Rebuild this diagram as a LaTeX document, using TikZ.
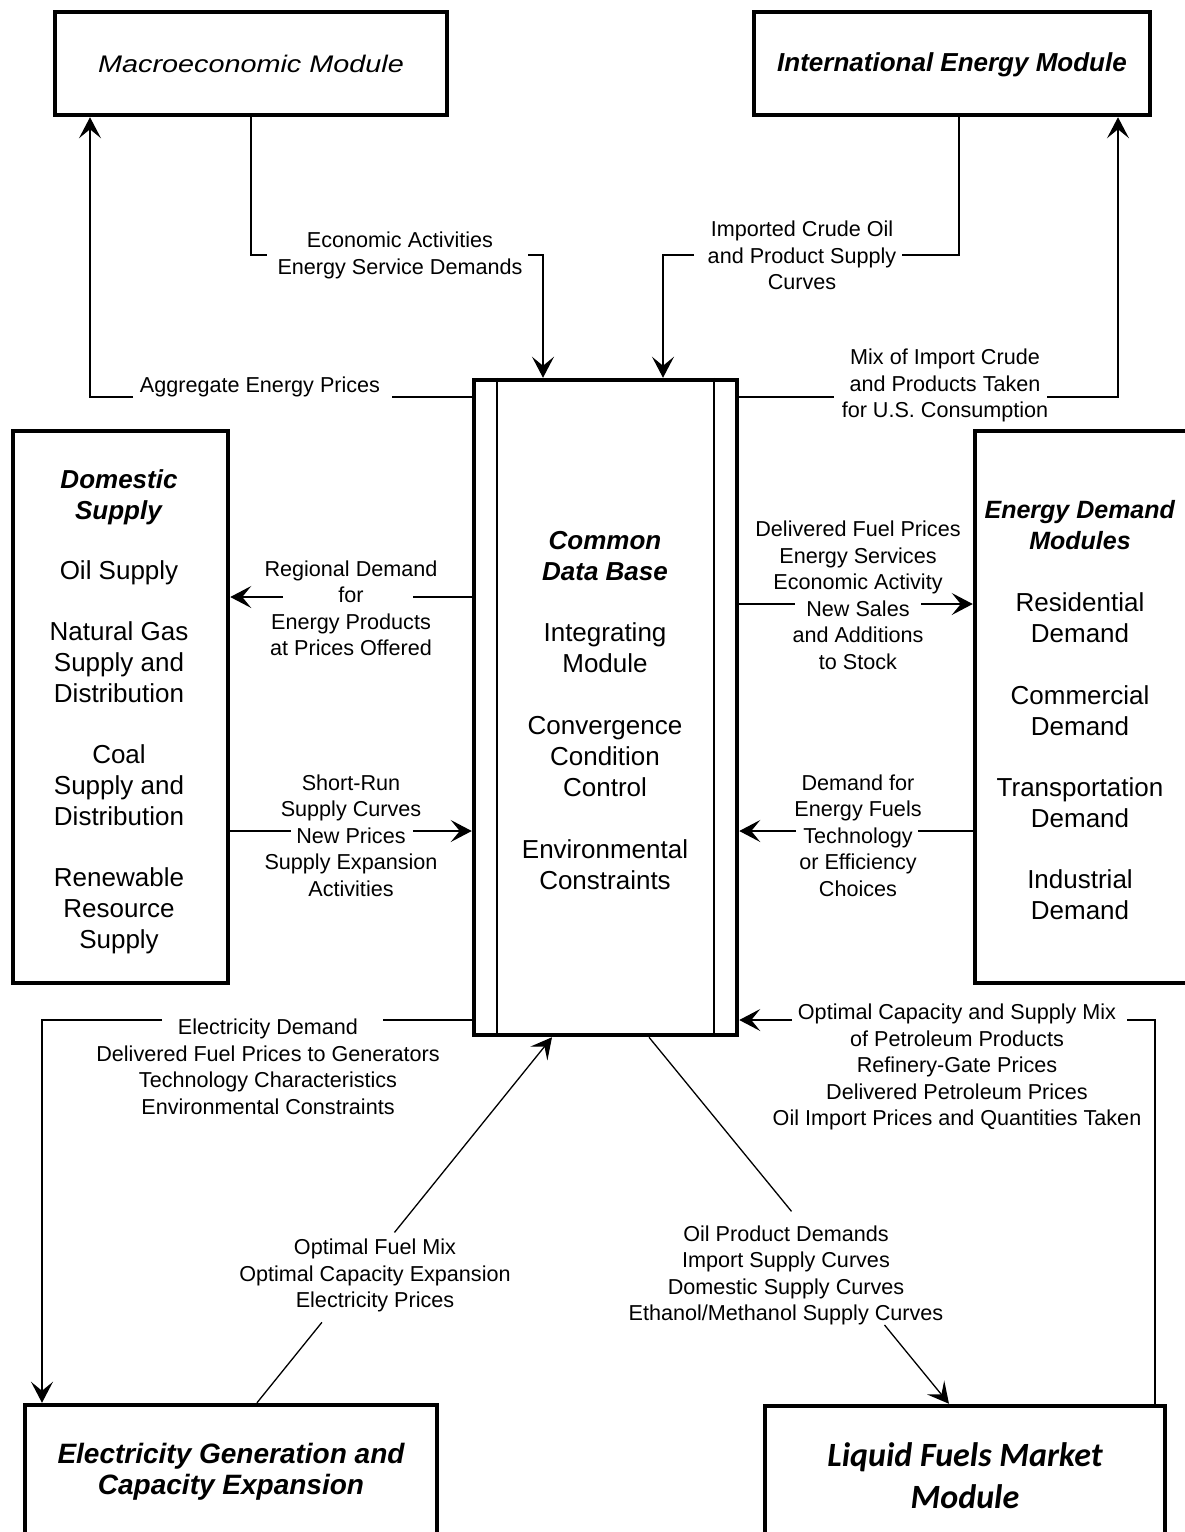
\documentclass[tikz,border=0pt]{standalone}
\usepackage{fontspec}
\setmainfont{Liberation Sans}
\newfontfamily\calib{Carlito}
\usepackage{graphicx}
\usetikzlibrary{arrows.meta,calc}
\newcommand\hbi[1]{\textbf{\textit{#1}}}
\begin{document}
\begin{tikzpicture}[x=1pt,y=-1pt,
  box/.style={draw, line width=4.5pt, inner sep=0pt, rectangle},
  conn/.style={line width=1.3pt},
  arr/.style={conn, -{Stealth[length=21pt,width=22pt,inset=9pt]}},
  lbl/.style={align=center, inner sep=0pt, font=\fontsize{21.6}{26.5}\selectfont},
  body/.style={align=center, inner sep=0pt, font=\fontsize{26}{31}\selectfont},
  head/.style={inner sep=0pt, font=\bfseries\itshape\fontsize{26}{31}\selectfont}
]
\useasboundingbox (0,0) rectangle (1184,1532);

% boxes
\node[box, minimum width=392pt, minimum height=103pt] (macro) at (251,63.5) {};
\node[box, minimum width=396pt, minimum height=103pt] (intl) at (952,63.5) {};
\node[box, minimum width=263pt, minimum height=655pt] (cdb) at (605.5,707.5) {};
\node[box, minimum width=215pt, minimum height=552pt] (dom) at (120.5,707) {};
\node[box, minimum width=226pt, minimum height=552pt] (dem) at (1088,707) {};
\node[box, minimum width=412pt, minimum height=140pt] (elec) at (231,1475) {};
\node[box, minimum width=400pt, minimum height=140pt] (liq) at (965,1476) {};

% inner lines of common data base
\draw[conn] (cdb.north -| 497,0) -- (cdb.south -| 497,0);
\draw[conn] (cdb.north -| 714,0) -- (cdb.south -| 714,0);

% box texts
\node[inner sep=0pt, font=\itshape\fontsize{24}{28}\selectfont] (macrotxt) at (251,63.5) {\scalebox{1.2}[1]{Macroeconomic Module}};
\node[head] (intltxt) at (952,65) {International Energy Module};
\node[body] (cdbtxt) at (605,711) {\hbi{Common}\\\hbi{Data Base}\\[30pt]Integrating\\Module\\[31pt]Convergence\\Condition\\Control\\[31pt]Environmental\\Constraints};
\node[body] (domtxt) at (119,711.5) {\hbi{Domestic}\\\hbi{Supply}\\[29pt]Oil Supply\\[30pt]Natural Gas\\Supply and\\Distribution\\[30pt]Coal\\Supply and\\Distribution\\[30pt]Renewable\\Resource\\Supply};
\node[body] (demtxt) at (1080,710.5) {{\fontsize{25}{31}\selectfont\hbi{Energy Demand}}\\{\fontsize{25}{31}\selectfont\hbi{Modules}}\\[31pt]Residential\\Demand\\[31pt]Commercial\\Demand\\[30pt]Transportation\\Demand\\[30pt]Industrial\\Demand};
\node[inner sep=0pt, align=center, font=\bfseries\itshape\fontsize{28}{31}\selectfont] (electxt) at (231,1472) {Electricity Generation and\\Capacity Expansion};
\node[inner sep=0pt, align=center, font=\calib\bfseries\itshape\fontsize{34}{42}\selectfont] (liqtxt) at (965,1476) {Liquid Fuels Market\\Module};

% labels
\node[lbl] (econ) at (400,255.5) {Economic Activities\\Energy Service Demands};
\node[lbl] (aggr) at (260,387) {Aggregate Energy Prices};
\node[lbl] (impc) at (802,255.5) {Imported Crude Oil\\and Product Supply\\Curves};
\node[lbl] (mix) at (945,385.5) {Mix of Import Crude\\and Products Taken\\for U.S. Consumption};
\node[lbl] (regd) at (351,608.5) {Regional Demand\\for\\Energy Products\\at Prices Offered};
\node[lbl] (shrt) at (351,835.5) {Short-Run\\Supply Curves\\New Prices\\Supply Expansion\\Activities};
\node[lbl] (delv) at (858,595.5) {Delivered Fuel Prices\\Energy Services\\Economic Activity\\New Sales\\and Additions\\to Stock};
\node[lbl] (dmfr) at (858,835.5) {Demand for\\Energy Fuels\\Technology\\or Efficiency\\Choices};
\node[lbl] (eldm) at (268,1067) {Electricity Demand\\Delivered Fuel Prices to Generators\\Technology Characteristics\\Environmental Constraints};
\node[lbl] (optf) at (375,1275.5) {Optimal Fuel Mix\\Optimal Capacity Expansion\\Electricity Prices};
\node[lbl] (optc) at (957,1067) {Optimal Capacity and Supply Mix\\of Petroleum Products\\Refinery-Gate Prices\\Delivered Petroleum Prices\\Oil Import Prices and Quantities Taken};
\node[lbl] (oilp) at (786,1275.5) {Oil Product Demands\\Import Supply Curves\\Domestic Supply Curves\\Ethanol/Methanol Supply Curves};

% connectors
\draw[conn] (macro.south) -- (macro.south |- 0,255) -- (267,255);
\draw[arr] (528,255) -- (543,255) -- (543,0 |- cdb.north);

\draw[conn] (cdb.west |- 0,397) -- (392,397);
\draw[arr] (133,397) -- (90,397) -- (90,0 |- macro.south);

\draw[conn] (959,0 |- intl.south) -- (959,255) -- (902,255);
\draw[arr] (694,255) -- (663,255) -- (663,0 |- cdb.north);

\draw[conn] (cdb.east |- 0,397) -- (834,397);
\draw[arr] (1047,397) -- (1118,397) -- (1118,0 |- intl.south);

\draw[conn] (cdb.west |- 0,597) -- (413,597);
\draw[arr] (283,597) -- (dom.east |- 0,597);

\draw[conn] (dom.east |- 0,831) -- (291,831);
\draw[arr] (413,831) -- (cdb.west |- 0,831);

\draw[conn] (cdb.east |- 0,604) -- (795,604);
\draw[arr] (921,604) -- (dem.west |- 0,604);

\draw[conn] (dem.west |- 0,831) -- (918,831);
\draw[arr] (796,831) -- (cdb.east |- 0,831);

\draw[conn] (cdb.west |- 0,1020) -- (383,1020);
\draw[arr] (162,1020) -- (42,1020) -- (42,0 |- elec.north);

\coordinate (e1) at (257,0 |- elec.north);
\coordinate (c1) at (552,0 |- cdb.south);
\draw[conn] (e1) -- ($(e1)!0.22!(c1)$);
\draw[arr] ($(e1)!0.466!(c1)$) -- (c1);

\draw[conn] (1155,0 |- liq.north) -- (1155,1020) -- (1127,1020);
\draw[arr] (792,1020) -- (cdb.east |- 0,1020);

\coordinate (c2) at (649,0 |- cdb.south);
\coordinate (l1) at (949,0 |- liq.north);
\draw[conn] (c2) -- ($(c2)!0.475!(l1)$);
\draw[arr] ($(c2)!0.785!(l1)$) -- (l1);
\end{tikzpicture}
\end{document}
